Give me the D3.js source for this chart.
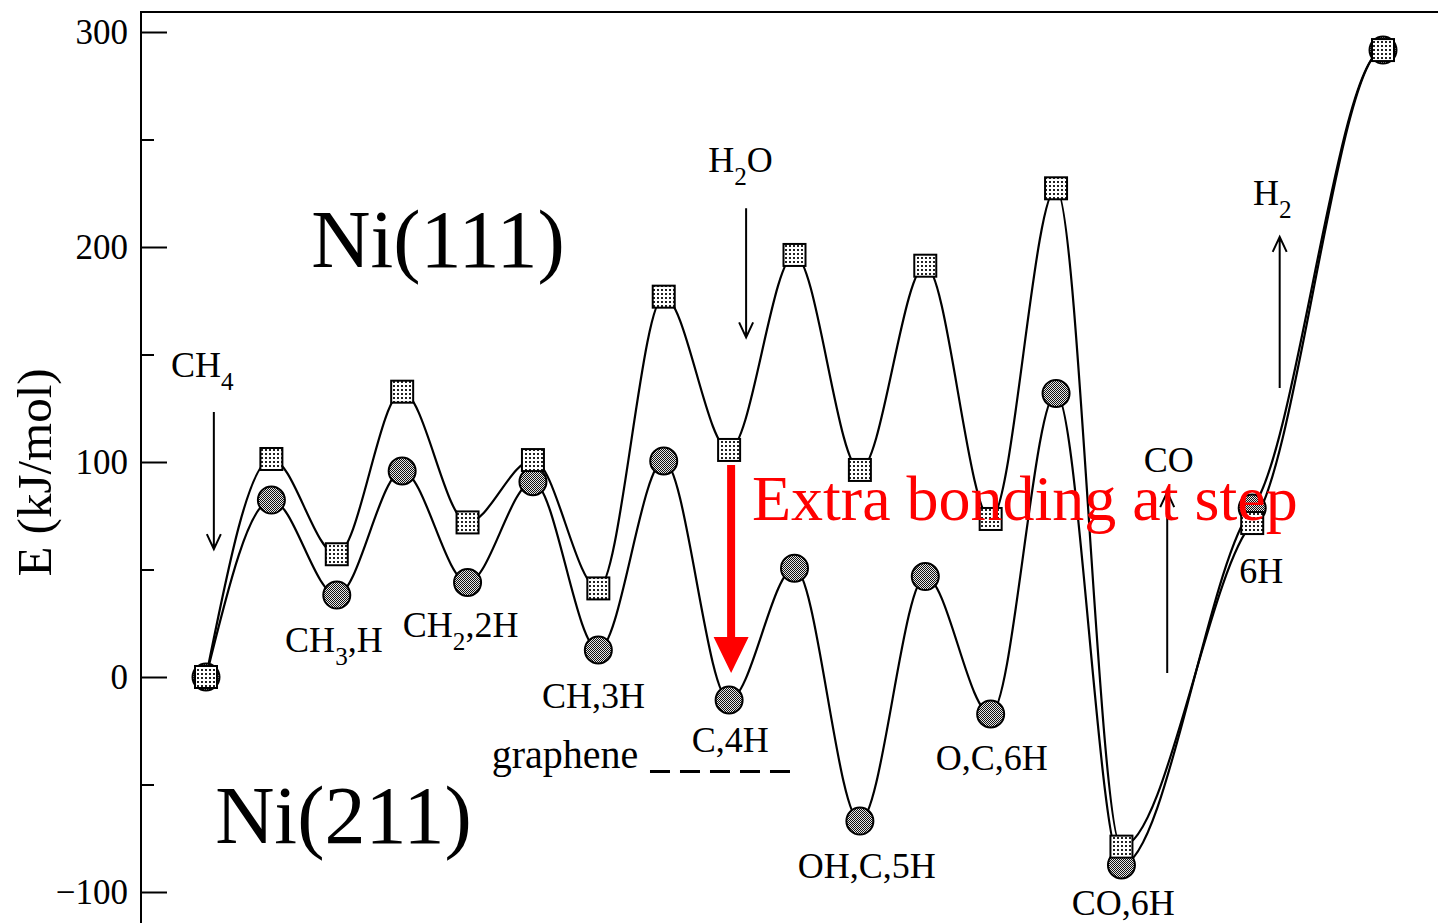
<!DOCTYPE html>
<html>
<head>
<meta charset="utf-8">
<script src="https://cdn.jsdelivr.net/npm/d3@7"></script>
<style>
  html, body { margin: 0; padding: 0; background: #fff; overflow: hidden; }
  svg { display: block; }
  text { font-family: "Liberation Serif", "Times New Roman", serif; }
</style>
</head>
<body>
<svg id="chart" width="1438" height="923"></svg>
<script>
// Reaction-step index along the steam-reforming path (steps 15 and 17 are skipped)
const steps = [0, 1, 2, 3, 4, 5, 6, 7, 8, 9, 10, 11, 12, 13, 14, 16, 18];
// Energies in kJ/mol
const energyNi111 = [0, 101.4, 57.1, 132.7, 71.9, 100.9, 41.2, 176.9, 105.6, 196.3, 96.3, 191.3, 73.5, 227.3, -78.9, 71.6, 291.6];
const energyNi211 = [0, 82.3, 38.1, 95.8, 44.0, 90.8, 12.6, 100.5, -10.7, 50.6, -67.0, 46.7, -17.2, 131.9, -87.4, 78.6, 291.6];
const majorTicks = [-100, 0, 100, 200, 300];
const minorTicks = [-50, 50, 150, 250];
const grapheneLevel = -44;

// Intermediate-state labels: segments are [text, subscript?]
const stateLabels = [
  { seg: [["CH"], ["3", 1], [",H"]], i: 1.21, e: 11.6, size: 36 },
  { seg: [["CH"], ["2", 1], [",2H"]], i: 3.01, e: 18.6, size: 36 },
  { seg: [["CH,3H"]], i: 5.14, e: -14.4, size: 36 },
  { seg: [["C,4H"]], i: 7.43, e: -34.9, size: 36 },
  { seg: [["graphene"]], i: 4.37, e: -42.3, size: 40 },
  { seg: [["O,C,6H"]], i: 11.16, e: -43.3, size: 36 },
  { seg: [["OH,C,5H"]], i: 9.05, e: -93.5, size: 36 },
  { seg: [["CO,6H"]], i: 13.24, e: -110.7, size: 36 },
  { seg: [["6H"]], i: 15.80, e: 43.7, size: 36 },
  { seg: [["CO"]], i: 14.34, e: 95.4, size: 36 },
  { seg: [["CH"], ["4", 1]], i: -0.535, e: 139.5, size: 36 },
  { seg: [["H"], ["2", 1], ["O"]], i: 7.68, e: 234.9, size: 36 },
  { seg: [["H"], ["2", 1]], i: 16.01, e: 219.5, size: 36 }
];
const surfaceLabels = [
  { text: "Ni(111)", i: 1.61, e: 190.7 },
  { text: "Ni(211)", i: 0.14, e: -77.2 }
];
// Adsorption / desorption arrows: [step, from energy, to energy]
const flowArrows = [
  [0.12, 123.3, 59.5],   // CH4 in
  [8.26, 218.0, 158.0],  // H2O in
  [16.42, 134.4, 204.7], // H2 out
  [14.70, 1.9, 86.0]     // CO out
];

const svg = d3.select("#chart");
const W = 1438, H = 923;
svg.append("rect").attr("width", W).attr("height", H).attr("fill", "#fff");

const x = d3.scaleLinear().domain([0, 18]).range([206, 1383]);
const y = d3.scaleLinear().domain([-100, 300]).range([892, 32]);
const axisX = 141, frameTop = 12;

// Fill patterns for the markers
const defs = svg.append("defs");
const pSq = defs.append("pattern").attr("id", "dotsLight")
  .attr("patternUnits", "userSpaceOnUse").attr("width", 4).attr("height", 4);
pSq.append("rect").attr("width", 4).attr("height", 4).attr("fill", "#fff");
pSq.append("rect").attr("x", 1).attr("y", 1).attr("width", 2).attr("height", 2).attr("fill", "#222");
const pCi = defs.append("pattern").attr("id", "dotsDark")
  .attr("patternUnits", "userSpaceOnUse").attr("width", 2).attr("height", 2);
pCi.append("rect").attr("width", 2).attr("height", 2).attr("fill", "#e6e6e6");
pCi.append("rect").attr("x", 0).attr("y", 0).attr("width", 1).attr("height", 1).attr("fill", "#111");
pCi.append("rect").attr("x", 1).attr("y", 1).attr("width", 1).attr("height", 1).attr("fill", "#111");

// Frame (left and top edges)
svg.append("path")
  .attr("d", `M${axisX},${H + 10}V${frameTop}H${W + 10}`)
  .attr("fill", "none").attr("stroke", "#000").attr("stroke-width", 2);

// Y axis: major and minor ticks pointing inward
const yAxis = d3.axisLeft(y).tickValues(majorTicks).tickSize(-26).tickPadding(13)
  .tickFormat(d3.format("d"));
const gy = svg.append("g").attr("transform", `translate(${axisX},0)`).call(yAxis);
gy.select(".domain").remove();
gy.selectAll(".tick line").attr("stroke", "#000").attr("stroke-width", 2);
gy.selectAll(".tick text").attr("font-size", 35)
  .attr("font-family", "'Liberation Serif', 'Times New Roman', serif")
  .attr("fill", "#000").attr("text-anchor", "end").attr("dy", "0.34em").attr("x", -13);

const yMinor = d3.axisLeft(y).tickValues(minorTicks).tickSize(-13).tickFormat("");
const gm = svg.append("g").attr("transform", `translate(${axisX},0)`).call(yMinor);
gm.select(".domain").remove();
gm.selectAll(".tick line").attr("stroke", "#000").attr("stroke-width", 2);

// Axis title
svg.append("text")
  .attr("transform", `translate(51,${(365 + 580) / 2}) rotate(-90)`)
  .attr("text-anchor", "middle").attr("font-size", 49).attr("fill", "#000")
  .text("E (kJ/mol)");

// Energy profiles: cubic Hermite through the states with flat tangents at
// minima/maxima and at the final gas-phase level, eased tangents elsewhere.
function profilePath(pts) {
  const X = pts.map(d => x(d.s)), Y = pts.map(d => y(d.e));
  const n = X.length;
  const sec = d3.range(n - 1).map(k => (Y[k + 1] - Y[k]) / (X[k + 1] - X[k]));
  const tan = new Array(n).fill(0);
  for (let k = 1; k < n - 1; k++) {
    if (sec[k - 1] * sec[k] > 0) {
      tan[k] = Math.sign(sec[k]) * 0.45 * Math.min(Math.abs(sec[k - 1]), Math.abs(sec[k]));
    }
  }
  tan[0] = (3 * sec[0] - tan[1]) / 2;
  tan[n - 1] = 0;
  const p = d3.path();
  p.moveTo(X[0], Y[0]);
  for (let k = 0; k < n - 1; k++) {
    const h = (X[k + 1] - X[k]) / 3;
    p.bezierCurveTo(X[k] + h, Y[k] + tan[k] * h, X[k + 1] - h, Y[k + 1] - tan[k + 1] * h, X[k + 1], Y[k + 1]);
  }
  return p.toString();
}

const ptsNi111 = steps.map((s, k) => ({ s, e: energyNi111[k] }));
const ptsNi211 = steps.map((s, k) => ({ s, e: energyNi211[k] }));

svg.append("path").attr("d", profilePath(ptsNi211))
  .attr("fill", "none").attr("stroke", "#000").attr("stroke-width", 2.2);
svg.append("path").attr("d", profilePath(ptsNi111))
  .attr("fill", "none").attr("stroke", "#000").attr("stroke-width", 2.2);

// Graphene reference level
svg.append("line")
  .attr("x1", x(6.79)).attr("x2", x(9.01))
  .attr("y1", y(grapheneLevel)).attr("y2", y(grapheneLevel))
  .attr("stroke", "#000").attr("stroke-width", 3).attr("stroke-dasharray", "20,10");

// Markers: circles for Ni(211), squares for Ni(111)
svg.append("g").selectAll("circle").data(ptsNi211).join("circle")
  .attr("cx", d => x(d.s)).attr("cy", d => y(d.e)).attr("r", 13.5)
  .attr("fill", "url(#dotsDark)").attr("stroke", "#000").attr("stroke-width", 2);
const sq = 22;
svg.append("g").selectAll("rect").data(ptsNi111).join("rect")
  .attr("x", d => x(d.s) - sq / 2).attr("y", d => y(d.e) - sq / 2)
  .attr("width", sq).attr("height", sq)
  .attr("fill", "url(#dotsLight)").attr("stroke", "#000").attr("stroke-width", 2);

// Open-headed arrows for species entering/leaving
const arrowG = svg.append("g").attr("fill", "none").attr("stroke", "#000").attr("stroke-width", 2);
flowArrows.forEach(([s, e0, e1]) => {
  const ax = x(s), y0 = y(e0), y1 = y(e1);
  const dir = y1 > y0 ? 1 : -1;
  arrowG.append("path")
    .attr("d", `M${ax},${y0}V${y1}M${ax - 7},${y1 - dir * 15}L${ax},${y1}L${ax + 7},${y1 - dir * 15}`);
});

// Text labels with optional subscripts
function addLabel(seg, i, e, size, fill) {
  const t = svg.append("text").attr("x", x(i)).attr("y", y(e))
    .attr("font-size", size).attr("fill", fill || "#000");
  let shifted = false;
  seg.forEach(([str, sub]) => {
    const ts = t.append("tspan").text(str);
    if (sub) { ts.attr("font-size", size * 0.7).attr("dy", 13); shifted = true; }
    else if (shifted) { ts.attr("dy", -13); shifted = false; }
  });
  return t;
}
stateLabels.forEach(l => addLabel(l.seg, l.i, l.e, l.size));
surfaceLabels.forEach(l => addLabel([[l.text]], l.i, l.e, 82));

// Step-site stabilisation of C,4H: red arrow from Ni(111) to Ni(211)
const k8 = steps.indexOf(8);
const rx = x(8) + 2, ry0 = y(energyNi111[k8]) + 15, ry1 = y(energyNi211[k8]) - 27;
svg.append("path")
  .attr("d", `M${rx - 4},${ry0}H${rx + 4}V${ry1 - 36}H${rx + 17.5}L${rx},${ry1}L${rx - 17.5},${ry1 - 36}H${rx - 4}Z`)
  .attr("fill", "#ff0000");
addLabel([["Extra bonding at step"]], 8.35, 73, 64, "#ff0000");
</script>
</body>
</html>
